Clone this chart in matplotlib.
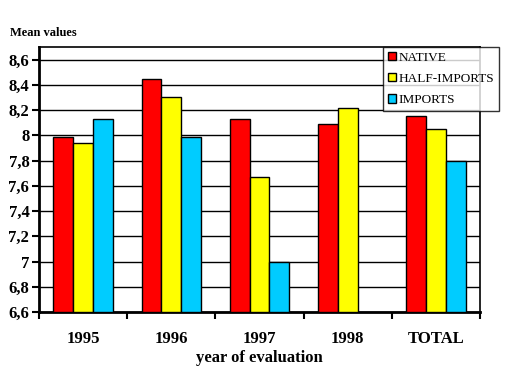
import matplotlib
matplotlib.use("Agg")
import matplotlib.pyplot as plt
import numpy as np

categories = ["1995", "1996", "1997", "1998", "TOTAL"]
native = [7.99, 8.45, 8.13, 8.09, 8.15]
half_imports = [7.94, 8.30, 7.67, 8.22, 8.05]
imports = [8.13, 7.99, 7.00, np.nan, 7.80]
series_names = ["NATIVE", "HALF-IMPORTS", "IMPORTS"]
colors = ["#FF0000", "#FFFF00", "#00CCFF"]
yticks = [6.6, 6.8, 7.0, 7.2, 7.4, 7.6, 7.8, 8.0, 8.2, 8.4, 8.6]
ytick_labels = ["6,6", "6,8", "7", "7,2", "7,4", "7,6", "7,8", "8", "8,2", "8,4", "8,6"]

plt.rcParams['font.family'] = ['Liberation Serif', 'DejaVu Serif']

fig = plt.figure(figsize=(5.12, 3.79), dpi=100)
ax = fig.add_axes([39/512, 1 - 312/379, (480-39)/512, (312-47)/379])

x = np.arange(len(categories))
w = 0.225
handles = []
for i, (vals, name, c) in enumerate(zip([native, half_imports, imports], series_names, colors)):
    h = ax.bar(x + (i - 1) * w, np.array(vals) - 6.6, w, bottom=6.6, color=c,
               edgecolor="black", linewidth=1.0, label=name, zorder=3)
    handles.append(h)

ax.set_xlim(-0.5, len(categories) - 0.5)
ax.set_ylim(6.6, 8.7)
ax.set_yticks(yticks)
ax.set_yticklabels(ytick_labels, fontsize=12, fontweight="bold")
ax.yaxis.grid(True, color="black", linewidth=1.0, zorder=0)
ax.set_axisbelow(True)

ax.set_xticks(np.arange(len(categories) + 1) - 0.5)
ax.set_xticklabels([])
ax.set_xticks(x, minor=True)
ax.set_xticklabels(categories, minor=True, fontsize=12, fontweight="bold")
ax.tick_params(axis="x", which="minor", length=0, pad=14)
ax.tick_params(axis="x", which="major", length=5, width=1.5, direction="out")
ax.tick_params(axis="y", length=5, width=1.5, direction="out", pad=2)

for s in ["left", "bottom"]:
    ax.spines[s].set_linewidth(2)
for s in ["top", "right"]:
    ax.spines[s].set_linewidth(1.2)

ax.set_xlabel("year of evaluation", fontsize=12, fontweight="bold", labelpad=2)
fig.text(10/512, 1 - 33/379, "Mean values", fontsize=9, fontweight="bold", va="center")

leg = fig.legend(handles=handles, loc="upper left", bbox_to_anchor=(383/512, 1 - 47/379),
                 frameon=True, fancybox=False, fontsize=9.5, handlelength=0.6, handleheight=0.6,
                 handletextpad=0.25, borderpad=0.35, labelspacing=0.7, borderaxespad=0)
leg.get_frame().set_edgecolor("black")
leg.get_frame().set_linewidth(1.0)
leg.set_zorder(10)

fig.savefig("out.png", dpi=100)
